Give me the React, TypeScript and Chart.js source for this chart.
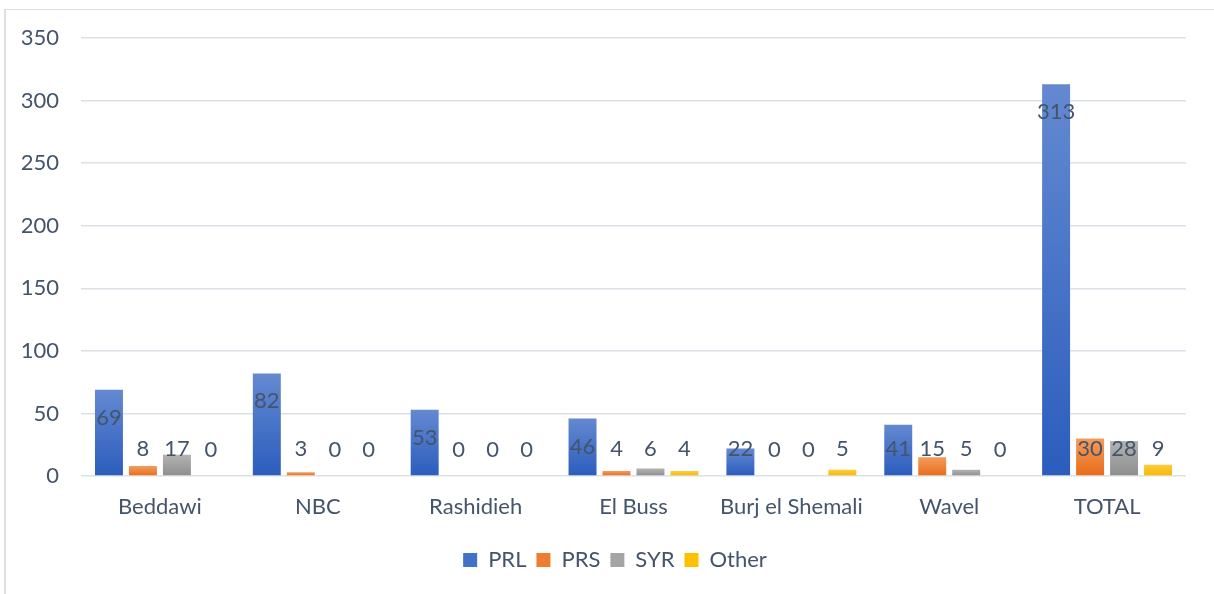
import React, { useEffect, useRef } from "react";
import { Chart, registerables } from "chart.js";

Chart.register(...registerables);

const categories = ["Beddawi", "NBC", "Rashidieh", "El Buss", "Burj el Shemali", "Wavel", "TOTAL"];
const prl = [69, 82, 53, 46, 22, 41, 313];
const prs = [8, 3, 0, 4, 0, 15, 30];
const syr = [17, 0, 0, 6, 0, 5, 28];
const other = [0, 0, 0, 4, 5, 0, 9];
const yTicks = [0, 50, 100, 150, 200, 250, 300, 350];

const seriesNames = ["PRL", "PRS", "SYR", "Other"];
const seriesData = [prl, prs, syr, other];
const gradTop = ["#6489D1", "#F49C5C", "#B3B3B3", "#FFCC3C"];
const gradBottom = ["#2B5DBD", "#E86C1A", "#8E8E8E", "#F5B800"];
const solid = ["#4472C4", "#ED7D31", "#A5A5A5", "#FFC000"];

const FONT = "Lato, 'Noto Sans', sans-serif";
const TEXT = "#44546A";
const FS = 22;

const labelPlugin = {
  id: "valueLabels",
  afterLayout(chart: any) {
    const lg = chart.legend;
    if (lg) {
      lg.left += 11;
      lg.right += 11;
    }
  },
  afterDatasetsDraw(chart: any) {
    const ctx = chart.ctx;
    ctx.save();
    ctx.font = `${FS}px ${FONT}`;
    ctx.fillStyle = TEXT;
    ctx.textAlign = "center";
    ctx.textBaseline = "middle";
    chart.data.datasets.forEach((ds: any, di: number) => {
      const meta = chart.getDatasetMeta(di);
      meta.data.forEach((el: any, i: number) => {
        const v = ds.data[i];
        const y = Math.min(el.y + 28, el.base - 26);
        ctx.fillText(String(v), el.x, y);
      });
    });
    ctx.restore();
  },
};

export default function App() {
  const ref = useRef<HTMLCanvasElement | null>(null);
  useEffect(() => {
    if (!ref.current) return;
    const chart = new Chart(ref.current, {
      type: "bar",
      data: {
        labels: categories,
        datasets: seriesData.map((d, si) => ({
          label: seriesNames[si],
          data: d,
          categoryPercentage: 0.861,
          barPercentage: 0.823,
          borderWidth: 0,
          backgroundColor: (c: any) => {
            const ch = c.chart;
            const ys = ch.scales && ch.scales.y;
            if (!ys || c.raw === undefined || c.type !== "data") return solid[si];
            const top = ys.getPixelForValue(c.raw);
            const base = ys.getPixelForValue(0);
            if (!isFinite(top) || !isFinite(base) || base - top < 1) return solid[si];
            const g = ch.ctx.createLinearGradient(0, top, 0, base);
            g.addColorStop(0, gradTop[si]);
            g.addColorStop(1, gradBottom[si]);
            return g;
          },
        })),
      },
      options: {
        responsive: false,
        animation: false,
        layout: { padding: { left: 16, right: 28, top: 28, bottom: 13 } },
        plugins: {
          tooltip: { enabled: false },
          legend: {
            position: "bottom",
            labels: {
              boxWidth: 14,
              boxHeight: 14,
              padding: 10,
              color: TEXT,
              font: { family: FONT, size: FS },
              generateLabels: (ch: any) =>
                seriesNames.map((n, i) => ({
                  text: n,
                  fillStyle: solid[i],
                  strokeStyle: solid[i],
                  lineWidth: 0,
                  hidden: false,
                  datasetIndex: i,
                  fontColor: TEXT,
                })),
            },
          },
        },
        scales: {
          x: {
            grid: { display: false, drawTicks: false },
            border: { display: false },
            ticks: { color: TEXT, font: { family: FONT, size: FS }, padding: 18, maxRotation: 0 },
            afterFit: (s: any) => {
              s.height = 63;
            },
          },
          y: {
            min: 0,
            max: 350,
            afterBuildTicks: (s: any) => {
              s.ticks = yTicks.map((v) => ({ value: v }));
            },
            grid: { color: "#DCE1E7", lineWidth: 1.5, drawTicks: false },
            border: { display: false },
            ticks: { color: TEXT, font: { family: FONT, size: FS }, padding: 22 },
            afterFit: (s: any) => {
              s.width = 59;
              s.paddingTop = 0;
              s.paddingBottom = 0;
            },
          },
        },
      },
      plugins: [labelPlugin],
    });
    return () => chart.destroy();
  }, []);

  return (
    <div
      style={{
        position: "fixed",
        left: 4,
        top: 9,
        width: 1210,
        height: 585,
        borderLeft: "2px solid #DCDDE8",
        borderTop: "1px solid #DCDDE8",
        overflow: "hidden",
        background: "#fff",
      }}
    >
      <canvas ref={ref} width={1208} height={584} style={{ display: "block" }} />
    </div>
  );
}
